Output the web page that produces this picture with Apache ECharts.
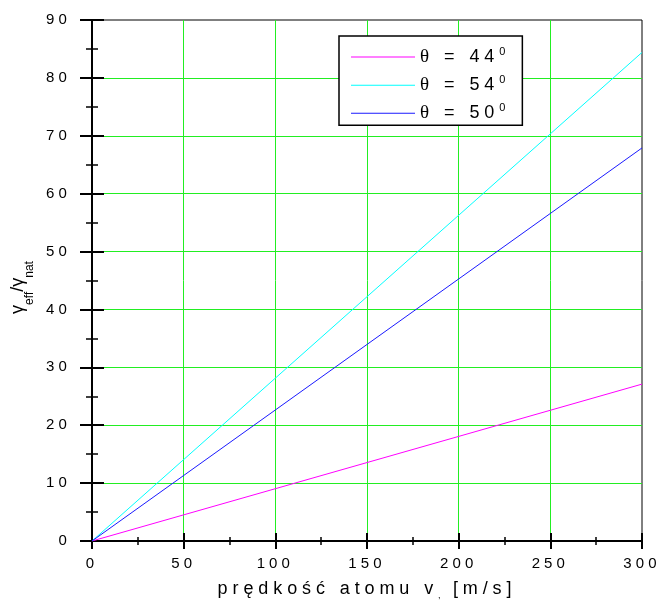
<!DOCTYPE html>
<html>
<head>
<meta charset="utf-8">
<script src="https://cdn.jsdelivr.net/npm/echarts@6/dist/echarts.min.js"></script>
<style>
  html, body { margin: 0; padding: 0; background: #fff; }
  #chart { width: 660px; height: 602px; }
</style>
</head>
<body>
<div id="chart"></div>
<script>
// axis ranges and tick steps
const xMin = 0, xMax = 300, xStep = 50;
const yMin = 0, yMax = 90, yStep = 10;

// atom velocity [m/s]
const speeds = [0, 300];
// gamma_eff / gamma_nat for each angle theta
const ratio44 = [0, 27.1];
const ratio54 = [0, 84.4];
const ratio50 = [0, 67.9];

const seriesNames = ['θ = 44', 'θ = 54', 'θ = 50'];
const seriesColors = ['#ff00ff', '#00ffff', '#1a1aff'];
const seriesValues = [ratio44, ratio54, ratio50];

const xTitle = 'prędkość atomu v';
const xUnit = '[m/s]';

// Text set in "Liberation" faces is drawn with widened letter spacing,
// proportional to its font size; other faces keep normal spacing.
const spacedFont = 'Liberation Sans';
const plainFont = 'Arial';
const spacingRatio = 0.27;

function letterGap(font) {
  if (!font || font.indexOf('Liberation') < 0) return 0;
  const m = /(\d+(?:\.\d+)?)px/.exec(font);
  const size = m ? parseFloat(m[1]) : 12;
  return Math.round(size * spacingRatio * 10) / 10;
}

const measureCtx = document.createElement('canvas').getContext('2d');
if (echarts.setPlatformAPI) {
  echarts.setPlatformAPI({
    measureText: function (text, font) {
      measureCtx.font = font || '12px sans-serif';
      measureCtx.letterSpacing = '0px';
      const w = measureCtx.measureText(text).width;
      return { width: w + letterGap(font) * String(text).length };
    }
  });
}
const nativeFillText = CanvasRenderingContext2D.prototype.fillText;
CanvasRenderingContext2D.prototype.fillText = function (t, x, y, maxW) {
  this.letterSpacing = letterGap(this.font) + 'px';
  return maxW === undefined ? nativeFillText.call(this, t, x, y) : nativeFillText.call(this, t, x, y, maxW);
};

const chart = echarts.init(document.getElementById('chart'), null, { renderer: 'canvas' });

function baseAxis(min, max, step) {
  return { type: 'value', min: min, max: max, interval: step };
}

const labelStyle = { color: '#000', fontFamily: spacedFont, fontSize: 15 };

const option = {
  animation: false,
  backgroundColor: '#fff',
  grid: {
    left: 92, right: 18, top: 20, bottom: 61,
    containLabel: false, outerBoundsMode: 'none',
    show: true, borderColor: '#000', borderWidth: 1, backgroundColor: 'transparent'
  },
  legend: {
    orient: 'vertical',
    left: 339, top: 36,
    backgroundColor: '#fff',
    borderColor: '#000', borderWidth: 1.5,
    padding: [9, 14, 0, 12],
    icon: 'rect',
    itemWidth: 64, itemHeight: 1, itemGap: 4,
    formatter: function (n) { return '{th|θ}' + n.slice(1) + '{sup|0}'; },
    textStyle: {
      color: '#000', fontFamily: spacedFont, fontSize: 18,
      rich: {
        th: { fontFamily: 'Liberation Serif', fontSize: 19, color: '#000' },
        sup: { fontFamily: spacedFont, fontSize: 11, color: '#000', verticalAlign: 'top', padding: [0, 0, 6, 0] }
      }
    },
    data: seriesNames
  },
  xAxis: [
    Object.assign(baseAxis(xMin, xMax, xStep), {
      position: 'bottom',
      name: xTitle + '{sub|,} ' + xUnit,
      nameLocation: 'middle', nameGap: 33,
      nameTextStyle: {
        color: '#000', fontFamily: spacedFont, fontSize: 18,
        rich: { sub: { fontFamily: spacedFont, fontSize: 9, color: '#000', verticalAlign: 'bottom' } }
      },
      axisLine: { show: true, lineStyle: { color: '#000', width: 2 } },
      axisTick: { show: true, length: 8, lineStyle: { color: '#000', width: 2 } },
      minorTick: { show: true, splitNumber: 2, length: 4, lineStyle: { color: '#000', width: 1.5 } },
      splitLine: { show: true, showMinLine: false, showMaxLine: false, lineStyle: { color: '#22ee22', width: 1 } },
      axisLabel: Object.assign({ margin: 13, formatter: String }, labelStyle)
    }),
    Object.assign(baseAxis(xMin, xMax, xStep), {
      position: 'bottom',
      axisLine: { show: false },
      axisTick: { show: true, inside: true, length: 8, lineStyle: { color: '#000', width: 2 } },
      minorTick: { show: true, splitNumber: 2, length: 4, lineStyle: { color: '#000', width: 1.5 } },
      splitLine: { show: false },
      axisLabel: { show: false }
    })
  ],
  yAxis: [
    Object.assign(baseAxis(yMin, yMax, yStep), {
      position: 'left',
      name: '{g|γ}{sub|eff}{g|/γ}{sub|nat}',
      nameLocation: 'middle', nameGap: 62,
      nameTextStyle: {
        color: '#000', fontFamily: plainFont, fontSize: 17, padding: [0, 14, 0, 0],
        rich: {
          g: { fontFamily: plainFont, fontSize: 18, color: '#000' },
          sub: { fontFamily: plainFont, fontSize: 12, color: '#000', verticalAlign: 'bottom', padding: [0, 0, -8, 0] }
        }
      },
      axisLine: { show: true, lineStyle: { color: '#000', width: 2 } },
      axisTick: { show: true, length: 12, lineStyle: { color: '#000', width: 2 } },
      minorTick: { show: true, splitNumber: 2, length: 6, lineStyle: { color: '#000', width: 1.5 } },
      splitLine: { show: true, showMinLine: false, showMaxLine: false, lineStyle: { color: '#22ee22', width: 1 } },
      axisLabel: Object.assign({ margin: 21, formatter: String }, labelStyle)
    }),
    Object.assign(baseAxis(yMin, yMax, yStep), {
      position: 'left',
      axisLine: { show: false },
      axisTick: { show: true, inside: true, length: 12, lineStyle: { color: '#000', width: 2 } },
      minorTick: { show: true, splitNumber: 2, length: 6, lineStyle: { color: '#000', width: 1.5 } },
      splitLine: { show: false },
      axisLabel: { show: false }
    })
  ],
  series: seriesNames.map(function (name, i) {
    return {
      name: name,
      type: 'line',
      xAxisIndex: 0, yAxisIndex: 0,
      symbol: 'none',
      color: seriesColors[i],
      lineStyle: { color: seriesColors[i], width: 1 },
      data: speeds.map(function (v, k) { return [v, seriesValues[i][k]]; })
    };
  })
};

chart.setOption(option);
</script>
</body>
</html>
